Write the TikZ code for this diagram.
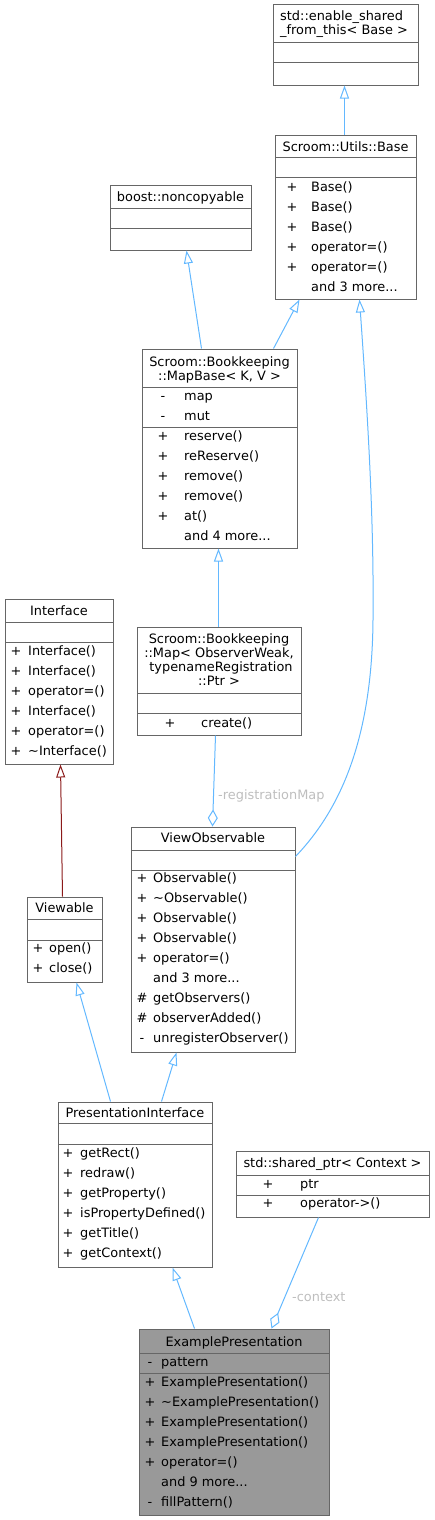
\documentclass[tikz,border=0pt]{standalone}
\usepackage{fontspec}
\setmainfont{DejaVu Sans}
\usetikzlibrary{arrows.meta,calc}
\definecolor{edgeblue}{HTML}{63B8FF}
\definecolor{boxgray}{HTML}{666666}
\definecolor{privred}{HTML}{8B1A1A}
\definecolor{lblgray}{HTML}{BEBEBE}
\definecolor{hlfill}{HTML}{999999}
\newcommand\clsbox[6]{\node[clsbox,fill=#6,minimum width={(#4-(#2))*1pt},minimum height={(#5-(#3))*1pt}] (#1) at ({(#2+#4)/2},{(#3+#5)/2}) {};}
\newcommand\sepl[3]{\draw[boxline] (#2,#1) -- (#3,#1);}
\newcommand\mrow[6]{\node[vis] (#1v) at (#2,#4) {#5};\node[mem] (#1t) at (#3,#4) {#6};}
\newcommand\mtxt[4]{\node[mem] (#1) at (#2,#3) {#4};}
\newcommand\ttl[4]{\node[ttlc] (#1) at (#2,#3) {#4};}
\tikzset{
  clsbox/.style={draw=boxgray,line width=1pt,inner sep=0pt,rectangle},
  boxline/.style={draw=boxgray,line width=1pt},
  vis/.style={inner sep=0pt,anchor=base},
  mem/.style={inner sep=0pt,anchor=base west},
  ttlc/.style={inner sep=0pt,anchor=base},
  inh/.style={draw=edgeblue,line width=1pt,-{Triangle[open,length=13pt,width=9pt]}},
  inhred/.style={draw=privred,line width=1pt,-{Triangle[open,length=13pt,width=9pt]}},
  agg/.style={draw=edgeblue,line width=1pt,{Diamond[open,length=17pt,width=10pt]}-},
  elabel/.style={inner sep=0pt,anchor=base west,text=lblgray}
}
\begin{document}
\begin{tikzpicture}[x=1pt,y=-1pt,font=\fontsize{12.9}{15}\selectfont]
\useasboundingbox (0,0) rectangle (434,1520);
% std::enable_shared_from_this
\clsbox{esft}{273}{5}{418}{85}{white}
\mtxt{esftA}{280}{21}{std::enable\_shared}
\mtxt{esftB}{280}{35}{\_from\_this< Base >}
\sepl{43}{273}{418}
\sepl{63}{273}{418}
% Scroom::Utils::Base
\clsbox{base}{275}{135}{416}{299}{white}
\ttl{baseT}{345.5}{151}{Scroom::Utils::Base}
\sepl{157}{275}{416}
\sepl{177}{275}{416}
\mrow{bA}{292}{311}{191}{+}{Base()}
\mrow{bB}{292}{311}{211}{+}{Base()}
\mrow{bC}{292}{311}{231}{+}{Base()}
\mrow{bD}{292}{311}{251}{+}{operator=()}
\mrow{bE}{292}{311}{271}{+}{operator=()}
\mtxt{bF}{311}{291}{and 3 more...}
% boost::noncopyable
\clsbox{noncp}{110}{185}{251}{250}{white}
\ttl{noncpT}{180.5}{201}{boost::noncopyable}
\sepl{208}{110}{251}
\sepl{228}{110}{251}
% MapBase
\clsbox{mapbase}{142}{349}{297}{548}{white}
\ttl{mbT1}{219.5}{366}{Scroom::Bookkeeping}
\ttl{mbT2}{219.5}{380}{::MapBase< K, V >}
\sepl{387}{142}{297}
\mrow{mbA}{163}{184}{400}{-}{map}
\mrow{mbB}{163}{184}{420}{-}{mut}
\sepl{427}{142}{297}
\mrow{mbC}{163}{184}{440}{+}{reserve()}
\mrow{mbD}{163}{184}{460}{+}{reReserve()}
\mrow{mbE}{163}{184}{480}{+}{remove()}
\mrow{mbF}{163}{184}{500}{+}{remove()}
\mrow{mbG}{163}{184}{520}{+}{at()}
\mtxt{mbH}{184}{540}{and 4 more...}
% Map< ObserverWeak, ... >
\clsbox{map}{137}{627}{301}{735}{white}
\ttl{mT1}{219}{643}{Scroom::Bookkeeping}
\ttl{mT2}{219}{657}{::Map< ObserverWeak,}
\ttl{mT3}{221}{671}{typenameRegistration}
\ttl{mT4}{219}{685}{::Ptr >}
\sepl{693}{137}{301}
\sepl{713}{137}{301}
\mrow{mA}{170}{201}{727}{+}{create()}
% Interface
\clsbox{iface}{5}{599}{113}{764}{white}
\ttl{ifT}{59}{615}{Interface}
\sepl{622}{5}{113}
\sepl{642}{5}{113}
\mrow{ifA}{16}{28}{655}{+}{Interface()}
\mrow{ifB}{16}{28}{675}{+}{Interface()}
\mrow{ifC}{16}{28}{695}{+}{operator=()}
\mrow{ifD}{16}{28}{715}{+}{Interface()}
\mrow{ifE}{16}{28}{735}{+}{operator=()}
\mrow{ifF}{16}{28}{755}{+}{\textasciitilde Interface()}
% Viewable
\clsbox{viewable}{27}{897}{102}{982}{white}
\ttl{vwT}{64.5}{912}{Viewable}
\sepl{919}{27}{102}
\sepl{940}{27}{102}
\mrow{vwA}{38}{49}{952}{+}{open()}
\mrow{vwB}{38}{49}{972}{+}{close()}
% ViewObservable
\clsbox{vo}{131}{827}{295}{1052}{white}
\ttl{voT}{213}{842}{ViewObservable}
\sepl{850}{131}{295}
\sepl{870}{131}{295}
\mrow{voA}{142}{153}{882}{+}{Observable()}
\mrow{voB}{142}{153}{902}{+}{\textasciitilde Observable()}
\mrow{voC}{142}{153}{922}{+}{Observable()}
\mrow{voD}{142}{153}{942}{+}{Observable()}
\mrow{voE}{142}{153}{962}{+}{operator=()}
\mtxt{voF}{153}{982}{and 3 more...}
\mrow{voG}{142}{153}{1002}{\#}{getObservers()}
\mrow{voH}{142}{153}{1022}{\#}{observerAdded()}
\mrow{voI}{142}{153}{1042}{-}{unregisterObserver()}
% PresentationInterface
\clsbox{pi}{58}{1102}{212}{1267}{white}
\ttl{piT}{135}{1117}{PresentationInterface}
\sepl{1123}{58}{212}
\sepl{1144}{58}{212}
\mrow{piA}{68}{80}{1157}{+}{getRect()}
\mrow{piB}{68}{80}{1177}{+}{redraw()}
\mrow{piC}{68}{80}{1197}{+}{getProperty()}
\mrow{piD}{68}{80}{1217}{+}{isPropertyDefined()}
\mrow{piE}{68}{80}{1237}{+}{getTitle()}
\mrow{piF}{68}{80}{1257}{+}{getContext()}
% std::shared_ptr< Context >
\clsbox{sp}{236}{1151}{429}{1217}{white}
\ttl{spT}{332.5}{1167}{std::shared\_ptr< Context >}
\sepl{1175}{236}{429}
\mrow{spA}{268}{300}{1188}{+}{ptr}
\sepl{1195}{236}{429}
\mrow{spB}{268}{300}{1207}{+}{operator->()}
% ExamplePresentation
\clsbox{ep}{139}{1329}{329}{1515}{hlfill}
\ttl{epT}{234}{1346}{ExamplePresentation}
\sepl{1353}{139}{329}
\mrow{epA}{150}{161}{1366}{-}{pattern}
\sepl{1373}{139}{329}
\mrow{epB}{150}{161}{1386}{+}{ExamplePresentation()}
\mrow{epC}{150}{161}{1406}{+}{\textasciitilde ExamplePresentation()}
\mrow{epD}{150}{161}{1426}{+}{ExamplePresentation()}
\mrow{epE}{150}{161}{1446}{+}{ExamplePresentation()}
\mrow{epF}{150}{161}{1466}{+}{operator=()}
\mtxt{epG}{161}{1486}{and 9 more...}
\mrow{epH}{150}{161}{1506}{-}{fillPattern()}
% connectors
\draw[inh] ($(base.north west)+(70,0)$) -- ($(esft.south west)+(72,0)$);
\draw[inh] ($(mapbase.north west)+(60,0)$) -- ($(noncp.south west)+(77,0)$);
\draw[inh] ($(mapbase.north west)+(132,0)$) -- ($(base.south west)+(25,0)$);
\draw[inh] ($(map.north west)+(82,0)$) -- ($(mapbase.south west)+(77,0)$);
\draw[agg] ($(vo.north west)+(82,0)$) -- ($(map.south west)+(79,0)$);
\node[elabel] (lblrm) at (218,799) {-registrationMap};
\draw[inh] ($(vo.north east)+(0,30)$) .. controls (340,810) and (372,740) .. (373,620) .. controls (374,520) and (368,420) .. ($(base.south west)+(85,0)$);
\draw[inhred] ($(viewable.north west)+(36,0)$) -- ($(iface.south west)+(56,0)$);
\draw[inh] ($(pi.north west)+(53,0)$) -- ($(viewable.south west)+(50,0)$);
\draw[inh] ($(pi.north west)+(104,0)$) -- ($(vo.south west)+(46,0)$);
\draw[inh] ($(ep.north west)+(56,0)$) -- ($(pi.south west)+(115,0)$);
\draw[agg] ($(ep.north west)+(133,0)$) -- ($(sp.south west)+(83,0)$);
\node[elabel] (lblctx) at (292,1301) {-context};
\end{tikzpicture}
\end{document}
